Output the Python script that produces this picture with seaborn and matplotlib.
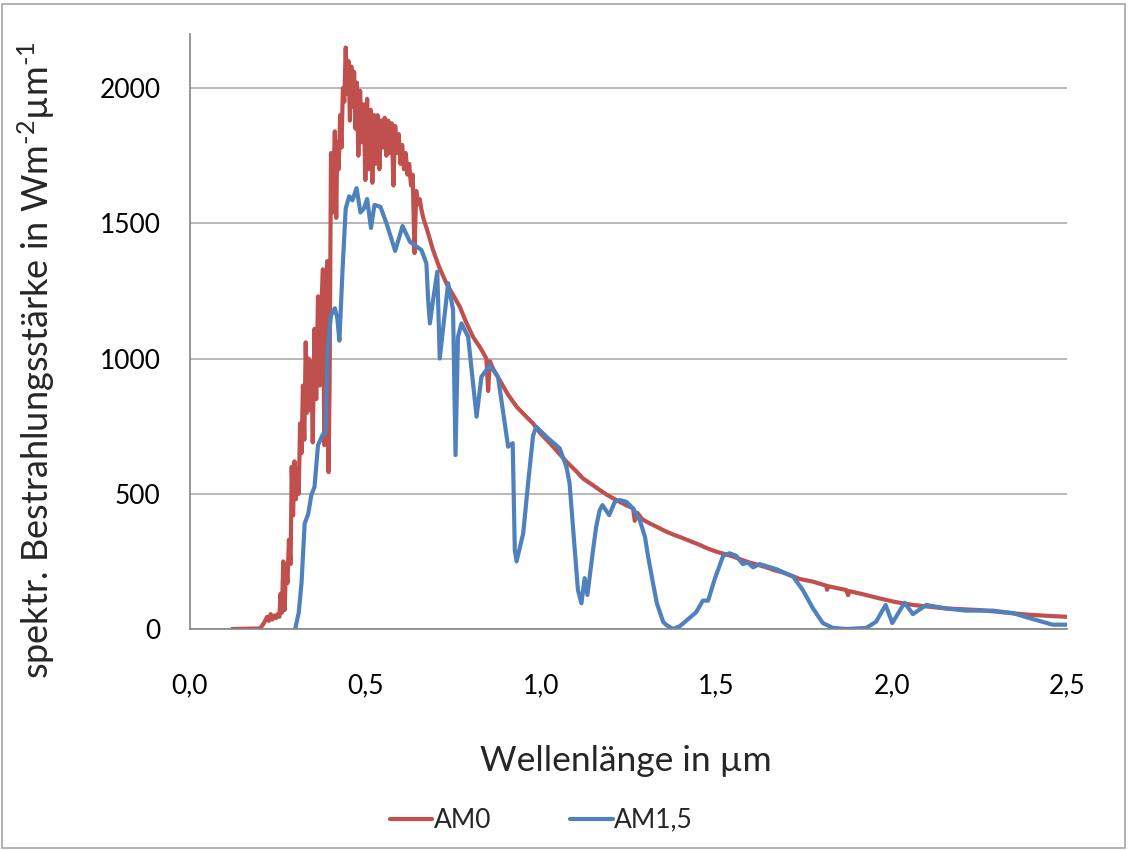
import pandas as pd
import matplotlib.pyplot as plt
import seaborn as sns
from matplotlib.patches import Rectangle

# AM0 (Extraterrestrisch), Werte
am0_x = [0.12, 0.20, 0.21, 0.22, 0.225, 0.23, 0.235, 0.24, 0.245, 0.25, 0.255, 0.258, 0.262, 0.266,
         0.27, 0.274, 0.278, 0.282, 0.287, 0.29, 0.294, 0.298, 0.302, 0.306, 0.31, 0.314, 0.318,
         0.322, 0.326, 0.33, 0.334, 0.338, 0.342, 0.346, 0.35, 0.355, 0.36, 0.365, 0.37, 0.375,
         0.379, 0.383, 0.387, 0.391, 0.395, 0.398, 0.402, 0.406, 0.41, 0.413, 0.417, 0.42, 0.424,
         0.428, 0.432, 0.436, 0.44, 0.444, 0.448, 0.452, 0.456, 0.46, 0.464, 0.468, 0.472, 0.476,
         0.48, 0.485, 0.49, 0.495, 0.5, 0.505, 0.51, 0.515, 0.52, 0.525, 0.53, 0.535, 0.54, 0.545,
         0.55, 0.555, 0.56, 0.565, 0.57, 0.575, 0.58, 0.585, 0.59, 0.595, 0.6, 0.605, 0.61, 0.615,
         0.62, 0.625, 0.63, 0.635, 0.64, 0.645, 0.65, 0.655, 0.66, 0.665, 0.675, 0.693, 0.71, 0.731,
         0.75, 0.769, 0.787, 0.807, 0.83, 0.845, 0.85, 0.855, 0.865, 0.883, 0.905, 0.931, 0.955,
         0.978, 1.0, 1.026, 1.05, 1.073, 1.1, 1.12, 1.145, 1.168, 1.19, 1.215, 1.24, 1.263, 1.268,
         1.275, 1.29, 1.31, 1.335, 1.358, 1.38, 1.405, 1.43, 1.453, 1.475, 1.5, 1.525, 1.548, 1.57,
         1.595, 1.62, 1.643, 1.665, 1.69, 1.715, 1.738, 1.776, 1.814, 1.816, 1.82, 1.871, 1.876,
         1.88, 1.92, 1.966, 2.01, 2.061, 2.11, 2.155, 2.2, 2.25, 2.3, 2.345, 2.39, 2.44, 2.5]
am0_y = [0, 2, 20, 45, 30, 55, 35, 50, 40, 55, 45, 130, 60, 250,
         70, 240, 170, 330, 240, 600, 420, 620, 480, 590, 500, 760, 650,
         900, 700, 1060, 800, 1000, 810, 990, 690, 1110, 850, 1230, 900, 1200,
         1330, 680, 1100, 1360, 580, 900, 1760, 1540, 1700, 1840, 1520, 1800, 1700,
         1900, 1780, 2000, 1950, 2150, 1980, 2100, 1880, 2080, 1930, 2060, 1850, 2020,
         1750, 1990, 1800, 1940, 1660, 1960, 1700, 1920, 1650, 1900, 1720, 1900, 1700, 1880,
         1780, 1890, 1750, 1880, 1760, 1870, 1640, 1860, 1760, 1830, 1720, 1790, 1700, 1760,
         1680, 1720, 1640, 1680, 1390, 1620, 1570, 1590, 1550, 1520, 1480, 1401, 1340, 1278,
         1235, 1192, 1135, 1080, 1035, 1000, 880, 990, 960, 920, 870, 822, 790,
         760, 722, 687, 652, 619, 585, 557, 535, 514, 495, 477, 460, 446, 400,
         430, 405, 391, 375, 360, 348, 336, 323, 311, 298, 286, 277, 268, 257,
         246, 237, 228, 218, 209, 197, 185, 175, 160, 145, 158, 144, 125,
         140, 128, 113, 100, 89, 82, 76, 73, 70, 64, 58, 53, 49, 45]

# AM1,5 (Erdoberflaeche)
am15_x = [0.30, 0.31, 0.318, 0.327, 0.337, 0.346, 0.355, 0.365, 0.379, 0.386, 0.393, 0.402, 0.413,
          0.42, 0.426, 0.435, 0.444, 0.454, 0.463, 0.475, 0.486, 0.496, 0.505, 0.516, 0.526, 0.543,
          0.561, 0.585, 0.606, 0.627, 0.66, 0.674, 0.679, 0.684, 0.693, 0.705, 0.712, 0.736, 0.75,
          0.757, 0.764, 0.774, 0.793, 0.817, 0.831, 0.855, 0.878, 0.907, 0.92, 0.926, 0.931, 0.95,
          0.964, 0.978, 0.987, 1.016, 1.054, 1.073, 1.082, 1.097, 1.106, 1.116, 1.125, 1.133, 1.149,
          1.158, 1.168, 1.176, 1.195, 1.211, 1.225, 1.244, 1.263, 1.282, 1.297, 1.306, 1.32, 1.331,
          1.349, 1.358, 1.377, 1.396, 1.415, 1.443, 1.462, 1.477, 1.496, 1.52, 1.538, 1.557, 1.576,
          1.59, 1.605, 1.624, 1.672, 1.719, 1.747, 1.776, 1.804, 1.833, 1.871, 1.928, 1.956, 1.983,
          2.002, 2.037, 2.061, 2.099, 2.155, 2.212, 2.288, 2.345, 2.402, 2.459, 2.5]
am15_y = [0, 60, 170, 390, 425, 495, 525, 680, 720, 725, 1045, 1160, 1186,
          1150, 1066, 1330, 1555, 1600, 1585, 1630, 1540, 1555, 1590, 1483, 1568, 1561,
          1497, 1398, 1490, 1432, 1401, 1352, 1216, 1130, 1216, 1321, 1000, 1278, 1180,
          643, 1080, 1130, 1080, 785, 933, 975, 933, 674, 687, 292, 250, 354,
          541, 714, 748, 711, 668, 600, 540, 292, 144, 95, 188, 126, 292,
          378, 440, 458, 421, 470, 477, 470, 446, 403, 341, 268, 169, 95,
          26, 15, 0, 10, 31, 62, 105, 105, 185, 271, 280, 271, 240,
          246, 228, 240, 221, 194, 144, 76, 22, 4, 0, 4, 27, 89,
          22, 97, 55, 89, 76, 68, 68, 59, 37, 16, 16]

x_ticks = [0.0, 0.5, 1.0, 1.5, 2.0, 2.5]
x_tick_labels = ['0,0', '0,5', '1,0', '1,5', '2,0', '2,5']
y_ticks = [0, 500, 1000, 1500, 2000]

df_am0 = pd.DataFrame({'x': am0_x, 'y': am0_y})
df_am15 = pd.DataFrame({'x': am15_x, 'y': am15_y})

sns.set_style("white")
plt.rcParams['font.family'] = ['Lato', 'DejaVu Sans']
plt.rcParams['mathtext.fontset'] = 'custom'
plt.rcParams['mathtext.rm'] = 'Lato'
plt.rcParams['mathtext.it'] = 'Lato'

fig = plt.figure(figsize=(11.28, 8.5), dpi=100)
ax = fig.add_axes([0.1684, 0.26, 0.7775, 0.70])

sns.lineplot(data=df_am0, x='x', y='y', ax=ax, color='#C0504D', linewidth=3.0,
             estimator=None, sort=False, label='AM0')
sns.lineplot(data=df_am15, x='x', y='y', ax=ax, color='#4F81BD', linewidth=3.0,
             estimator=None, sort=False, label='AM1,5')

ax.set_xlim(0, 2.5)
ax.set_ylim(0, 2200)
ax.set_xticks(x_ticks)
ax.set_xticklabels(x_tick_labels)
ax.set_yticks(y_ticks)
ax.set_yticklabels([str(v) for v in y_ticks])
ax.tick_params(axis='both', labelsize=19, colors='#868686', labelcolor='black',
               length=7, width=1.2, direction='out')
ax.tick_params(axis='x', pad=25)
ax.tick_params(axis='y', pad=14)

ax.grid(axis='y', color='#A6A6A6', linewidth=1.1)
ax.set_axisbelow(True)
for side in ['top', 'right']:
    ax.spines[side].set_visible(False)
for side in ['left', 'bottom']:
    ax.spines[side].set_color('#868686')
    ax.spines[side].set_linewidth(1.2)

ax.set_xlabel('Wellenlänge in µm', fontsize=25.5)
ax.set_ylabel(r'spektr. Bestrahlungsstärke in Wm$^{\text{-2}}$µm$^{\text{-1}}$', fontsize=26)
ax.xaxis.set_label_coords(0.497, -0.195)
ax.yaxis.set_label_coords(-0.152, 0.452)

ax.legend_.remove()
fig.legend(loc='center', bbox_to_anchor=(0.48, 0.035), ncol=2, frameon=False,
           fontsize=19, handlelength=1.6, handletextpad=0.05, columnspacing=3.0)

fig.patches.append(Rectangle((0.002, 0.002), 0.995, 0.993, transform=fig.transFigure,
                             fill=False, edgecolor='#A6A6A6', linewidth=1.2))

plt.savefig('out.png', dpi=100)
plt.close()
